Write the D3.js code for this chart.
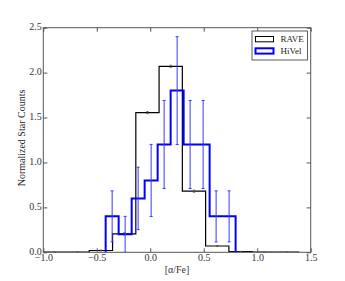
<!DOCTYPE html>
<html><head><meta charset="utf-8">
<script src="https://cdn.jsdelivr.net/npm/d3@7"></script>
<style>body{margin:0;background:#fff}svg{display:block}text{font-family:"Liberation Serif","DejaVu Serif",serif}</style>
</head><body><svg id="c" width="345" height="281"></svg>
<script>
// RAVE histogram (normalized), bin edges start and width
const raveStart = -1.005, raveWidth = 0.2175;
const raveValues = [0.002, 0.003, 0.02, 0.205, 1.555, 2.07, 0.68, 0.07, 0.008, 0.002, 0.001];
const raveErrors = [0.003, 0.003, 0.006, 0.012, 0.012, 0.012, 0.012, 0.006, 0.003, 0.003, 0.002];
// HiVel histogram
const hivelStart = -0.417, hivelWidth = 0.1215;
const hivelValues = [0.4, 0.2, 0.6, 0.8, 1.2, 1.8, 1.2, 1.2, 0.4, 0.4];
const hivelErrors = [0.284, 0.2, 0.347, 0.401, 0.49, 0.6, 0.49, 0.49, 0.284, 0.284];
const xTicks = [-1.0, -0.5, 0.0, 0.5, 1.0, 1.5];
const yTicks = [0.0, 0.5, 1.0, 1.5, 2.0, 2.5];

const svg = d3.select("#c");
const L = 43.3, R = 310.7, T = 27.7, B = 252.3;
const x = d3.scaleLinear().domain([-1.0, 1.5]).range([L, R]);
const y = d3.scaleLinear().domain([0, 2.5]).range([B, T]);

svg.append("clipPath").attr("id","clip").append("rect").attr("x",L).attr("y",T).attr("width",R-L).attr("height",B-T);
const g = svg.append("g").attr("clip-path","url(#clip)");

function stepPath(start, w, vals){
  const pts = [[start,0]];
  vals.forEach((v,i)=>{ pts.push([start+i*w, v]); pts.push([start+(i+1)*w, v]); });
  pts.push([start+vals.length*w, 0]);
  return d3.line().x(d=>x(d[0])).y(d=>y(d[1]))(pts);
}
function errBars(start, w, vals, errs, color, sw, cap){
  vals.forEach((v,i)=>{
    const cx = x(start+(i+0.5)*w);
    const lo = Math.max(0, v-errs[i]), hi = v+errs[i];
    g.append("line").attr("x1",cx).attr("x2",cx).attr("y1",y(lo)).attr("y2",y(hi)).attr("stroke",color).attr("stroke-width",sw);
    [lo,hi].forEach(e=>g.append("line").attr("x1",cx-cap).attr("x2",cx+cap).attr("y1",y(e)).attr("y2",y(e)).attr("stroke",color).attr("stroke-width",sw));
  });
}

g.append("path").attr("d",stepPath(raveStart,raveWidth,raveValues)).attr("fill","none").attr("stroke","#000").attr("stroke-width",1.2);
errBars(raveStart,raveWidth,raveValues,raveErrors,"#555",0.8,1.2);
g.append("path").attr("d",stepPath(hivelStart,hivelWidth,hivelValues)).attr("fill","none").attr("stroke","#0000ff").attr("stroke-width",2);
errBars(hivelStart,hivelWidth,hivelValues,hivelErrors,"#3a3aff",1,1.5);

// frame
svg.append("rect").attr("x",L).attr("y",T).attr("width",R-L).attr("height",B-T).attr("fill","none").attr("stroke","#555").attr("stroke-width",1);

// ticks inward on all sides
const axB = d3.axisBottom(x).tickValues(xTicks).tickFormat(d=>d3.format(".1f")(d).replace("-","\u2212")).tickSizeInner(-4).tickSizeOuter(0).tickPadding(2);
const gb = svg.append("g").attr("transform",`translate(0,${B})`).call(axB);
const axL = d3.axisLeft(y).tickValues(yTicks).tickFormat(d3.format(".1f")).tickSizeInner(-4).tickSizeOuter(0).tickPadding(1.5);
const gl = svg.append("g").attr("transform",`translate(${L},0)`).call(axL);
const gt = svg.append("g").attr("transform",`translate(0,${T})`).call(d3.axisTop(x).tickValues(xTicks).tickFormat("").tickSizeInner(-4).tickSizeOuter(0));
const gr = svg.append("g").attr("transform",`translate(${R},0)`).call(d3.axisRight(y).tickValues(yTicks).tickFormat("").tickSizeInner(-4).tickSizeOuter(0));
[gb,gl,gt,gr].forEach(a=>{a.select(".domain").remove(); a.selectAll(".tick line").attr("stroke","#555");
  a.selectAll("text").attr("fill","#333").style("font-family","Liberation Serif, serif").style("font-size","10px");});
gb.selectAll("text").attr("dy","0.72em");
gl.selectAll("text").attr("dy","0.2em");

// labels
svg.append("text").attr("x",(L+R)/2).attr("y",272.5).attr("text-anchor","middle").attr("font-size","10px").attr("fill","#333").text("[\u03b1/Fe]");
svg.append("text").attr("transform",`translate(25,138) rotate(-90)`).attr("text-anchor","middle").attr("font-size","10px").attr("fill","#222").text("Normalized Star Counts");

// legend
const lg = svg.append("g");
lg.append("rect").attr("x",252).attr("y",31).attr("width",55.5).attr("height",29).attr("fill","#fff").attr("stroke","#333").attr("stroke-width",0.8);
const entries = [["RAVE","#000",1,36.5],["HiVel","#0000ff",2,48.3]];
entries.forEach(([name,col,sw,yy])=>{
  lg.append("rect").attr("x",255.5).attr("y",yy).attr("width",18).attr("height",5.3).attr("fill","none").attr("stroke",col).attr("stroke-width",sw);
  lg.append("text").attr("x",280.5).attr("y",yy+5.8).attr("font-size","9px").attr("fill","#222").text(name);
});
</script></body></html>
